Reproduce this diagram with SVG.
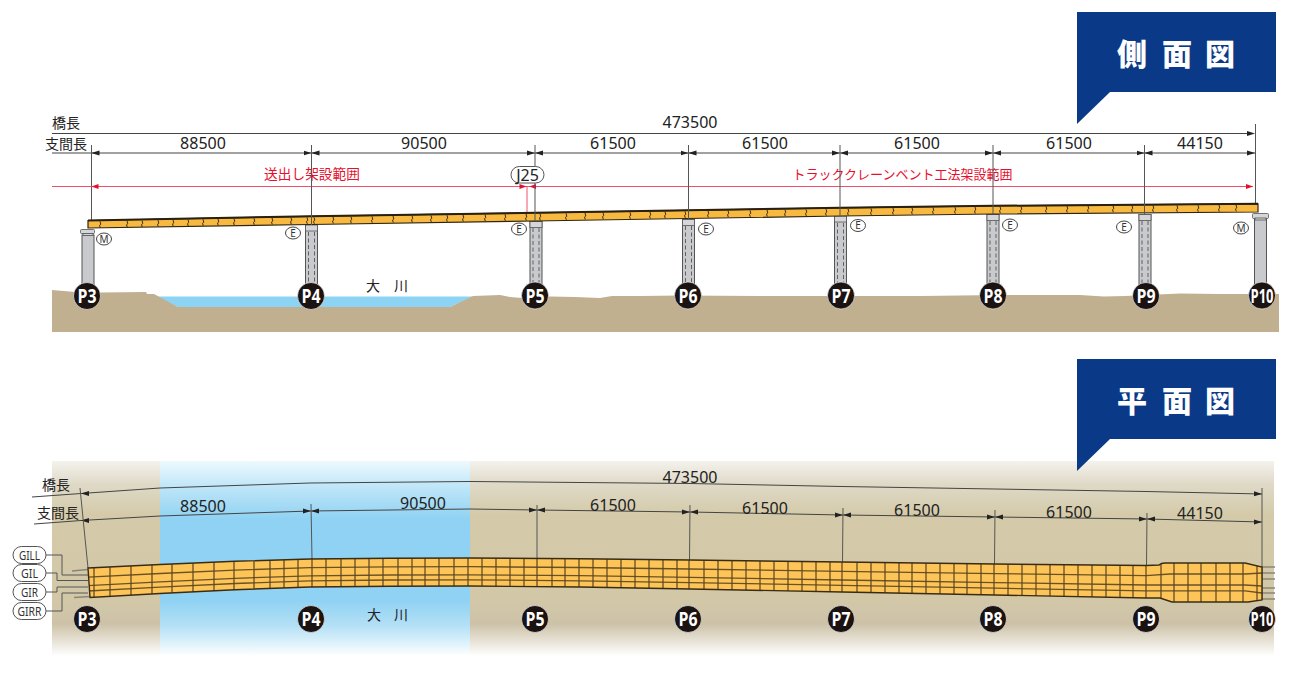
<svg xmlns="http://www.w3.org/2000/svg" width="1300" height="674" viewBox="0 0 1300 674">
<style>
text{font-family:"Noto Sans","Noto Sans CJK JP",sans-serif;fill:#222}
.num{font-size:16px;text-anchor:middle}
.ja{font-family:"Noto Sans CJK JP",sans-serif;font-size:14px;text-anchor:middle}
.red{font-family:"Noto Sans CJK JP",sans-serif;font-size:13px;text-anchor:middle;fill:#e60f2d}
.river{font-family:"Noto Sans CJK JP",sans-serif;font-size:14px;text-anchor:middle;fill:#222}
.title{font-family:"Noto Sans CJK JP",sans-serif;font-size:30px;font-weight:900;fill:#fff}
.banner{fill:#0a3a87}
.dim{fill:none;stroke:#444;stroke-width:1}
.dima{fill:none;stroke:#444;stroke-width:1;marker-start:url(#a);marker-end:url(#a)}
.dimr{fill:none;stroke:#444;stroke-width:1;marker-end:url(#a)}
.rl{fill:none;stroke:#f2506a;stroke-width:1}
.ext{fill:none;stroke:#555;stroke-width:1}
.girder{fill:#f7b93f;stroke:#2f2412;stroke-width:1.2}
.tick{fill:none;stroke:#3a2d14;stroke-width:1}
.col{fill:#c9cace;stroke:#555;stroke-width:1}
.cap{fill:#d5d6d9;stroke:#555;stroke-width:.8}
.dash{fill:none;stroke:#555;stroke-width:.9;stroke-dasharray:4 2.500}
.brg{fill:#fff;stroke:#444;stroke-width:1}
.brgf{font-size:10px;text-anchor:middle;fill:#333}
.pin{fill:#1a1311;stroke:#fff;stroke-width:.6}
.pl{font-family:"Open Sans",sans-serif;font-size:20px;font-weight:700;text-anchor:middle;fill:#fff}
.pill{fill:#fff;stroke:#555;stroke-width:1}
.gl{font-family:"Noto Sans",sans-serif;font-size:13px;text-anchor:middle;fill:#333}
.lead{fill:none;stroke:#555;stroke-width:1}
.stub{fill:none;stroke:#8a8578;stroke-width:1.600}
.pg{fill:#fdc458}
.pt{fill:none;stroke:#5a4420;stroke-width:1.200}
.pn{fill:none;stroke:#6a5226;stroke-width:1.300}
</style>
<defs>
<marker id="a" viewBox="0 0 8 6" refX="8" refY="3" markerWidth="8" markerHeight="6" markerUnits="userSpaceOnUse" orient="auto-start-reverse"><path d="M0 .5L8 3L0 5.500z" fill="#222"/></marker>
<linearGradient id="land" x1="0" y1="0" x2="0" y2="1"><stop offset="0" stop-color="#f4f2ed"/><stop offset=".12" stop-color="#dfd9c7"/><stop offset=".28" stop-color="#d4caa9"/><stop offset=".72" stop-color="#d2c8a8"/><stop offset=".84" stop-color="#cdc2a8"/><stop offset="1" stop-color="#fdfdfc"/></linearGradient>
<linearGradient id="water" x1="0" y1="0" x2="0" y2="1"><stop offset="0" stop-color="#eef9fe"/><stop offset=".14" stop-color="#bde5f8"/><stop offset=".3" stop-color="#90d2f3"/><stop offset=".72" stop-color="#90d2f3"/><stop offset=".85" stop-color="#b4e0f6"/><stop offset="1" stop-color="#fbfeff"/></linearGradient>
<clipPath id="pc"><path id="pgs" d="M88 568L160 564.500L235 561.300L310 559L390 558.200L470 558L580 558.800L690 560L842 562L995 564L1146 565.500L1159 565Q1161 563 1165 563L1245 563L1262 567L1262 600L1248 602L1172 602L1160 598L1146 598L995 595L842 592L690 589L580 587L470 586L390 586.200L310 587L235 589.700L160 593.500L90 597.500Z"/></clipPath>
</defs>

<g id="side-ground">
<polygon points="155,296.500 473,296.500 450,307 178,307" fill="#8dd3f3"/>
<path d="M52 290L75 292L100 292.500L146 292L147 294L154 294L178 307L450 307L473 296L500 295L510 297L528 298.500L550 296.500L575 297L600 298L612 296L640 296L680 295.500L760 296L840 296L920 296L1000 295L1040 295L1080 295L1104 296.500L1125 296L1180 293.500L1220 294L1279 294L1279 332L52 332Z" fill="#c0b090"/>
</g>

<g id="side-connectors">
<path class="dim" d="M52 133.500H1248"/><path d="M1255 133.500L1247 131V136Z" fill="#222"/>
<path class="dim" d="M52 153H91"/>
<path class="dima" d="M91.500 153H311.500"/><path class="dima" d="M311.500 153H535"/><path class="dima" d="M535 153H688.500"/><path class="dima" d="M688.500 153H840"/><path class="dima" d="M840 153H993"/><path class="dima" d="M993 153H1144.500"/><path class="dima" d="M1144.500 153H1255"/>
<path class="ext" d="M91.500 145V222M1255.500 124V204"/>
<path class="rl" d="M52 186.500H1253"/>
<path d="M91.500 186.500L98.500 184V189Z" fill="#e60f2d"/>
<path d="M526.500 186.500L519.500 184V189Z" fill="#e60f2d"/>
<path d="M529.500 186.500L536 184V189Z" fill="#e60f2d"/>
<path d="M1253 186.500L1246 184V189Z" fill="#e60f2d"/>
<path class="rl" d="M527 186.500V213"/>
</g>

<g id="side-dimension-text">
<text class="ja" x="66" y="128">橋長</text>
<text class="ja" x="66" y="149">支間長</text>
<text class="num" x="690" y="128">473500</text>
<text class="num" x="203" y="149">88500</text>
<text class="num" x="424" y="149">90500</text>
<text class="num" x="613" y="149">61500</text>
<text class="num" x="765" y="149">61500</text>
<text class="num" x="917" y="149">61500</text>
<text class="num" x="1069" y="149">61500</text>
<text class="num" x="1200" y="149">44150</text>
<text class="red" x="312" y="179" font-size="13.700" style="font-size:13.700px">送出し架設範囲</text>
<text class="red" x="902.500" y="179">トラッククレーンベント工法架設範囲</text>
</g>

<g id="pier-P3"><rect class="col" x="82" y="235" width="12" height="52"/><rect class="cap" x="80.500" y="229.500" width="14" height="4" rx="1"/><rect class="cap" x="83" y="233.500" width="10" height="2"/></g>
<g id="pier-P4"><rect class="col" x="305.500" y="225" width="12" height="62"/><rect class="cap" x="305.500" y="225" width="12" height="6"/><path class="dash" d="M308.500 232V285M314.500 232V285"/></g>
<g id="pier-P5"><rect class="col" x="530" y="221.500" width="12" height="65"/><rect class="cap" x="530" y="221.500" width="12" height="6"/><path class="dash" d="M533 228V285M539 228V285"/></g>
<g id="pier-P6"><rect class="col" x="682.500" y="219.500" width="12" height="66"/><rect class="cap" x="682.500" y="219.500" width="12" height="6"/><path class="dash" d="M685.500 226V285M691.500 226V285"/></g>
<g id="pier-P7"><rect class="col" x="834.500" y="216" width="12" height="70"/><rect class="cap" x="834.500" y="216" width="12" height="6"/><path class="dash" d="M837.500 223V285M843.500 223V285"/></g>
<g id="pier-P8"><rect class="col" x="987" y="214.500" width="12" height="71"/><rect class="cap" x="987" y="214.500" width="12" height="6"/><path class="dash" d="M990 221V285M996 221V285"/></g>
<g id="pier-P9"><rect class="col" x="1139" y="214.500" width="12" height="72"/><rect class="cap" x="1139" y="214.500" width="12" height="6"/><path class="dash" d="M1142 221V285M1148 221V285"/></g>
<g id="pier-P10"><rect class="col" x="1254.500" y="219" width="12" height="68"/><rect class="cap" x="1252.500" y="213.500" width="16" height="5" rx="1"/><rect class="cap" x="1255" y="218" width="11" height="2"/></g>

<g id="side-girder">
<path class="girder" d="M88 220.500L311 216.300L535 212.800L840 207.800L993 205.800L1258 203.800L1258 212L993 214L840 216L535 221L311 224.500L88 228Z"/>
<path d="M88 220.500L311 216.300L535 212.800L840 207.800L993 205.800L1258 203.800" fill="none" stroke="#2a2010" stroke-width="2"/>
<path class="tick" d="M100 221.300l.8 3-1.300 1 .8 2.500M127 220.800l.8 3-1.300 1 .8 2.500M142 220.500l.8 3-1.300 1 .8 2.500M158 220.200l.8 3-1.300 1 .8 2.500M173 219.900l.8 3-1.300 1 .8 2.500M188 219.600l.8 3-1.300 1 .8 2.500M203 219.300l.8 3-1.300 1 .8 2.500M218 219l.8 3-1.300 1 .8 2.500M234 218.700l.8 3-1.300 1 .8 2.500M254 218.300l.8 3-1.300 1 .8 2.500M272 218l.8 3-1.300 1 .8 2.500M291 217.700l.8 3-1.300 1 .8 2.500M307 217.400l.8 3-1.300 1 .8 2.500M314 217.300l.8 3-1.300 1 .8 2.500M333 217l.8 3-1.300 1 .8 2.500M351 216.700l.8 3-1.300 1 .8 2.500M372 216.300l.8 3-1.300 1 .8 2.500M393 216l.8 3-1.300 1 .8 2.500M412 215.700l.8 3-1.300 1 .8 2.500M431 215.400l.8 3-1.300 1 .8 2.500M447 215.200l.8 3-1.300 1 .8 2.500M463 214.900l.8 3-1.300 1 .8 2.500M485 214.600l.8 3-1.300 1 .8 2.500M505 214.300l.8 3-1.300 1 .8 2.500M526 214l.8 3-1.300 1 .8 2.500M540 213.700l.8 3-1.300 1 .8 2.500M566 213.300l.8 3-1.300 1 .8 2.500M585 213l.8 3-1.300 1 .8 2.500M603 212.700l.8 3-1.300 1 .8 2.500M630 212.300l.8 3-1.300 1 .8 2.500M650 212l.8 3-1.300 1 .8 2.500M665 211.700l.8 3-1.300 1 .8 2.500M685 211.400l.8 3-1.300 1 .8 2.500M708 210.900l.8 3-1.300 1 .8 2.500M728 210.600l.8 3-1.300 1 .8 2.500M750 210.300l.8 3-1.300 1 .8 2.500M767 210l.8 3-1.300 1 .8 2.500M785 209.700l.8 3-1.300 1 .8 2.500M806 209.400l.8 3-1.300 1 .8 2.500M826 209.100l.8 3-1.300 1 .8 2.500M848 208.800l.8 3-1.300 1 .8 2.500M871 208.400l.8 3-1.300 1 .8 2.500M893 208.100l.8 3-1.300 1 .8 2.500M912 207.800l.8 3-1.300 1 .8 2.500M933 207.500l.8 3-1.300 1 .8 2.500M955 207.200l.8 3-1.300 1 .8 2.500M975 207l.8 3-1.300 1 .8 2.500M1000 206.600l.8 3-1.300 1 .8 2.500M1021 206.400l.8 3-1.300 1 .8 2.500M1046 206.200l.8 3-1.300 1 .8 2.500M1067 206l.8 3-1.300 1 .8 2.500M1088 205.800l.8 3-1.300 1 .8 2.500M1113 205.700l.8 3-1.300 1 .8 2.500M1132 205.600l.8 3-1.300 1 .8 2.500M1153 205.400l.8 3-1.300 1 .8 2.500M1177 205.300l.8 3-1.300 1 .8 2.500M1198 205.200l.8 3-1.300 1 .8 2.500M1219 205l.8 3-1.300 1 .8 2.500M1236 204.900l.8 3-1.300 1 .8 2.500"/>
<path class="ext" d="M311.500 145V225M535 145V221M688.500 145V219M840 145V216M993 145V214M1144.500 145V214"/>
</g>

<g id="J25"><rect class="pill" x="511" y="166.500" width="33" height="16.500" rx="8.250"/><text x="527.500" y="180.500" text-anchor="middle" font-size="16">J25</text></g>

<g id="side-bearings">
<ellipse class="brg" cx="104" cy="239" rx="7.500" ry="6"/><text class="brgf" x="104" y="242.500">M</text>
<ellipse class="brg" cx="293" cy="233" rx="7.500" ry="6"/><text class="brgf" x="293" y="236.500">E</text>
<ellipse class="brg" cx="519" cy="229" rx="7.500" ry="6"/><text class="brgf" x="519" y="232.500">E</text>
<ellipse class="brg" cx="706" cy="229" rx="7.500" ry="6"/><text class="brgf" x="706" y="232.500">E</text>
<ellipse class="brg" cx="858" cy="225.500" rx="7.500" ry="6"/><text class="brgf" x="858" y="229">E</text>
<ellipse class="brg" cx="1010" cy="225" rx="7.500" ry="6"/><text class="brgf" x="1010" y="228.500">E</text>
<ellipse class="brg" cx="1124" cy="227" rx="7.500" ry="6"/><text class="brgf" x="1124" y="230.500">E</text>
<ellipse class="brg" cx="1241" cy="228" rx="7.500" ry="6"/><text class="brgf" x="1241" y="231.500">M</text>
</g>

<g id="side-P3"><circle class="pin" cx="87" cy="296" r="13.500"/><text class="pl" x="87" y="303" textLength="19" lengthAdjust="spacingAndGlyphs">P3</text></g>
<g id="side-P4"><circle class="pin" cx="311" cy="296" r="13.500"/><text class="pl" x="311" y="303" textLength="19" lengthAdjust="spacingAndGlyphs">P4</text></g>
<g id="side-P5"><circle class="pin" cx="535" cy="295.500" r="13.500"/><text class="pl" x="535" y="302.500" textLength="19" lengthAdjust="spacingAndGlyphs">P5</text></g>
<g id="side-P6"><circle class="pin" cx="688" cy="295.500" r="13.500"/><text class="pl" x="688" y="302.500" textLength="19" lengthAdjust="spacingAndGlyphs">P6</text></g>
<g id="side-P7"><circle class="pin" cx="841" cy="295.500" r="13.500"/><text class="pl" x="841" y="302.500" textLength="19" lengthAdjust="spacingAndGlyphs">P7</text></g>
<g id="side-P8"><circle class="pin" cx="993" cy="295.500" r="13.500"/><text class="pl" x="993" y="302.500" textLength="19" lengthAdjust="spacingAndGlyphs">P8</text></g>
<g id="side-P9"><circle class="pin" cx="1146" cy="296" r="13.500"/><text class="pl" x="1146" y="303" textLength="19" lengthAdjust="spacingAndGlyphs">P9</text></g>
<g id="side-P10"><circle class="pin" cx="1262" cy="295.500" r="13.500"/><text class="pl" x="1262" y="302.500" textLength="23" lengthAdjust="spacingAndGlyphs">P10</text></g>
<text class="river" x="373 401" y="291">大川</text>

<g id="plan-ground"><rect x="52" y="461" width="1222" height="194" fill="url(#land)"/><rect x="160" y="461" width="310" height="194" fill="url(#water)"/></g>

<g id="banner-side"><path class="banner" d="M1077 12H1276V92H1110L1077 124Z"/><text class="title" x="1117 1162 1205" y="65">側面図</text></g>
<g id="banner-plan"><path class="banner" d="M1077 359H1276V439H1110L1077 471Z"/><text class="title" x="1117 1162 1205" y="412">平面図</text></g>

<g id="plan-connectors">
<path class="stub" d="M72 571L88 569.500M74 597.500L90 596.500M1262 567H1275M1262 573H1275M1262 579H1275M1262 588H1275M1262 593H1275M1262 599H1275"/>
<path class="dim" d="M32 497L81 493.500"/>
<path class="dimr" d="M81 493.500L160 488L310 483L470 481.500L690 483.500L842 486.500L995 489L1146 491.500L1262 494"/>
<path d="M81 493.500L89 491L89 496Z" fill="#222"/>
<path class="dim" d="M34 524L81 520.500"/>
<path class="dim" d="M81 520.500L160 516L311 511"/><path class="dim" d="M311 511L470 509L537 510"/><path class="dim" d="M537 510L690 512"/><path class="dim" d="M690 512L843 515"/><path class="dim" d="M843 515L995 517"/><path class="dim" d="M995 517L1147 519"/><path class="dim" d="M1147 519L1262 522"/>
<path d="M81 520.500L89 518 89 523ZM311 511L303 508.500 303 513.500ZM311 511L319 508.500 319 513.500ZM537 510L529 507.500 529 512.500ZM537 510L545 507.500 545 512.500ZM690 512L682 509.500 682 514.500ZM690 512L698 509.500 698 514.500ZM843 515L835 512.500 835 517.500ZM843 515L851 512.500 851 517.500ZM995 517L987 514.500 987 519.500ZM995 517L1003 514.500 1003 519.500ZM1147 519L1139 516.500 1139 521.500ZM1147 519L1155 516.500 1155 521.500ZM1262 522L1254 519.500 1254 524.500Z" fill="#222"/>
<path class="ext" d="M80 488L88 568M311 504L312 559M537 505L537 558M690 505L689.500 560M843 508L842.500 562M995 510L994.500 564M1147 513L1146.500 565.500M1262 488V600"/>
<path class="lead" d="M46 555H62V575H88M46 573H57V580.500H88M46 592H57V587H88M46 611H62V593H88"/>
</g>

<g id="plan-dimension-text">
<text class="ja" x="56" y="490">橋長</text>
<text class="ja" x="58" y="518">支間長</text>
<text class="num" x="690" y="483">473500</text>
<text class="num" x="203" y="512">88500</text>
<text class="num" x="423" y="509">90500</text>
<text class="num" x="613" y="511">61500</text>
<text class="num" x="765" y="514">61500</text>
<text class="num" x="917" y="516">61500</text>
<text class="num" x="1069" y="518">61500</text>
<text class="num" x="1200" y="519">44150</text>
</g>

<g id="plan-girder">
<use href="#pgs" class="pg"/>
<g clip-path="url(#pc)">
<path class="pn" d="M88 577.100L160 573.500L235 570.100L310 567.700L390 566.900L470 566.700L580 567.500L690 569L842 571.300L995 573.600L1146 575.600L1170 574H1245L1262 573M88 585.700L160 581.900L235 578.300L310 575.800L390 575L470 574.800L580 575.700L690 577.400L842 580L995 582.600L1146 585H1245L1262 586M88 591L160 587.100L235 583.500L310 580.800L390 580L470 579.800L580 580.800L690 582.600L842 585.400L995 588.200L1146 590.900H1245L1262 593"/>
<path class="pt" d="M94 560V605M110 560V605M131 555V605M152 555V605M172 555V600M193 555V600M214 555V600M234 555V600M254 555V600M270 555V600M284 555V600M298 555V600M312 555V600M326 555V600M341 555V600M355 555V600M369 555V600M383 555V600M398 555V600M412 555V600M425 555V600M439 555V600M454 555V600M468 555V600M482 555V600M496 555V600M510 555V600M524 555V600M537 555V600M552 555V600M565 555V600M579 555V600M593 555V600M607 555V600M621 555V600M635 555V600M649 555V600M663 555V600M677 555V600M689 555V600M704 555V600M718 555V600M732 555V600M746 555V600M760 555V600M774 555V600M788 555V600M802 555V600M816 555V600M830 555V600M842 555V600M857 555V600M871 555V600M885 555V600M899 555V600M912 555V600M926 555V600M940 555V600M954 555V600M967 555V600M981 555V600M994 555V600M1008 555V600M1022 555V600M1036 555V600M1050 555V600M1064 555V600M1078 555V600M1092 555V600M1106 555V600M1120 555V600M1133 555V600M1146 555V600M1161 555V605M1174 555V605M1188 555V605M1201 555V605M1216 555V605M1230 555V605M1243 555V605M1257 555V605"/>
</g>
<use href="#pgs" fill="none" stroke="#3a2c14" stroke-width="1.400"/>
</g>

<g id="GILL"><rect class="pill" x="13" y="546.500" width="33" height="17" rx="8.500"/><text class="gl" x="29.500" y="559.500" textLength="21" lengthAdjust="spacingAndGlyphs">GILL</text></g>
<g id="GIL"><rect class="pill" x="13" y="564.500" width="33" height="17" rx="8.500"/><text class="gl" x="29.500" y="577.500" textLength="17" lengthAdjust="spacingAndGlyphs">GIL</text></g>
<g id="GIR"><rect class="pill" x="13" y="583.500" width="33" height="17" rx="8.500"/><text class="gl" x="29.500" y="596.500" textLength="17" lengthAdjust="spacingAndGlyphs">GIR</text></g>
<g id="GIRR"><rect class="pill" x="13" y="602.500" width="33" height="17" rx="8.500"/><text class="gl" x="29.500" y="615.500" textLength="24" lengthAdjust="spacingAndGlyphs">GIRR</text></g>

<g id="plan-P3"><circle class="pin" cx="87" cy="619" r="13.500"/><text class="pl" x="87" y="626" textLength="19" lengthAdjust="spacingAndGlyphs">P3</text></g>
<g id="plan-P4"><circle class="pin" cx="311" cy="619" r="13.500"/><text class="pl" x="311" y="626" textLength="19" lengthAdjust="spacingAndGlyphs">P4</text></g>
<g id="plan-P5"><circle class="pin" cx="535" cy="619" r="13.500"/><text class="pl" x="535" y="626" textLength="19" lengthAdjust="spacingAndGlyphs">P5</text></g>
<g id="plan-P6"><circle class="pin" cx="688" cy="619" r="13.500"/><text class="pl" x="688" y="626" textLength="19" lengthAdjust="spacingAndGlyphs">P6</text></g>
<g id="plan-P7"><circle class="pin" cx="841" cy="619" r="13.500"/><text class="pl" x="841" y="626" textLength="19" lengthAdjust="spacingAndGlyphs">P7</text></g>
<g id="plan-P8"><circle class="pin" cx="993" cy="619" r="13.500"/><text class="pl" x="993" y="626" textLength="19" lengthAdjust="spacingAndGlyphs">P8</text></g>
<g id="plan-P9"><circle class="pin" cx="1146" cy="619" r="13.500"/><text class="pl" x="1146" y="626" textLength="19" lengthAdjust="spacingAndGlyphs">P9</text></g>
<g id="plan-P10"><circle class="pin" cx="1262" cy="619" r="13.500"/><text class="pl" x="1262" y="626" textLength="23" lengthAdjust="spacingAndGlyphs">P10</text></g>
<text class="river" x="374 401" y="620">大川</text>
</svg>
